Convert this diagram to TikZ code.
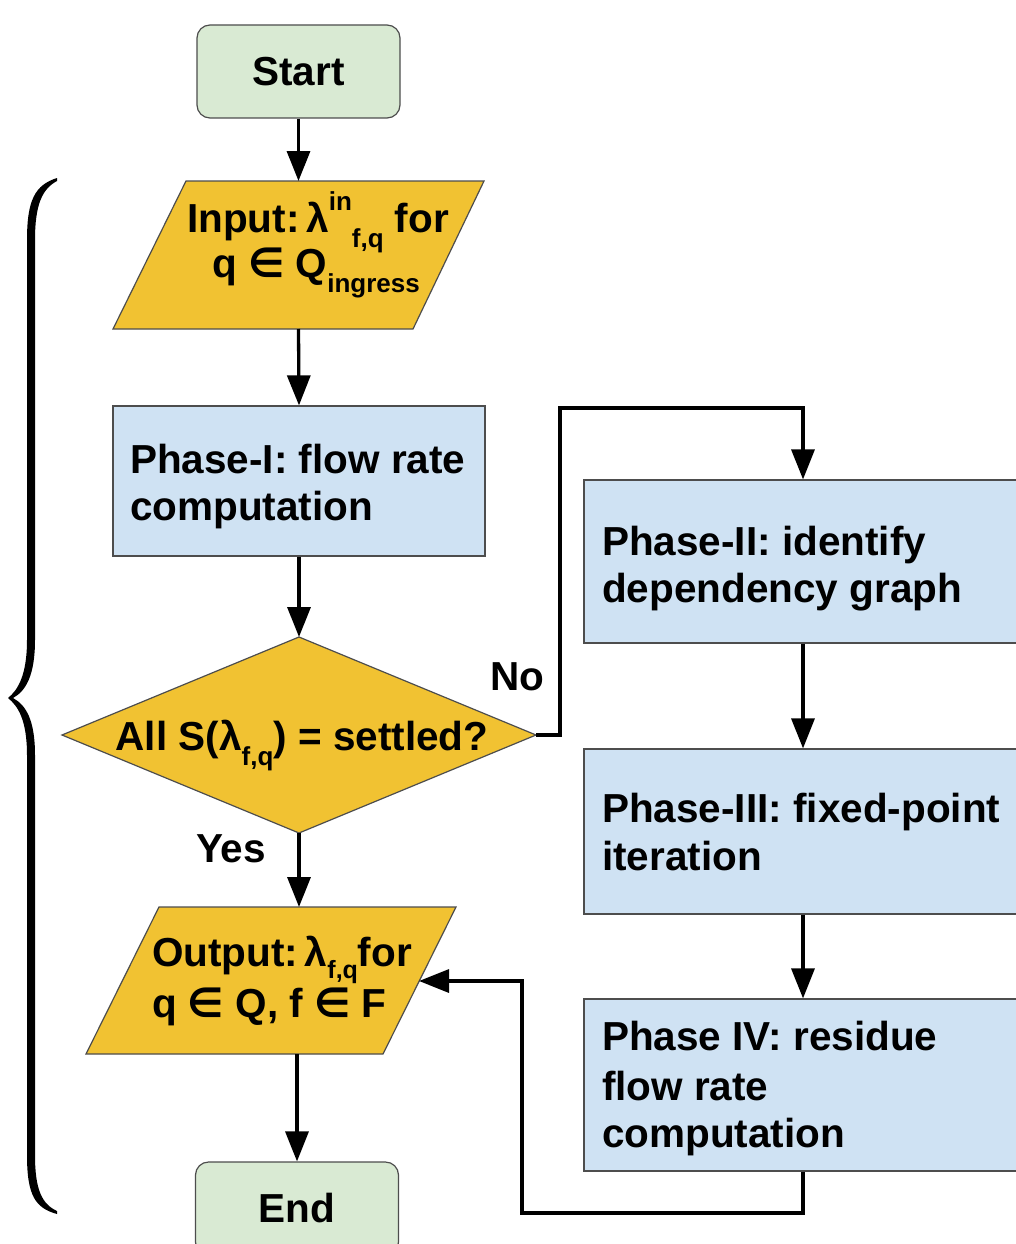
\documentclass[tikz,border=0pt]{standalone}
\usepackage{fontspec}
\setmainfont{Liberation Sans}
\newfontfamily\dvfont{DejaVu Sans}
\usetikzlibrary{arrows.meta}
\definecolor{termfill}{HTML}{D9EAD3}
\definecolor{iofill}{HTML}{F1C232}
\definecolor{procfill}{HTML}{CFE2F3}
\definecolor{edgecol}{HTML}{4D4D4D}
\newcommand\lsub[1]{\raisebox{-15pt}{\fontsize{26}{26}\selectfont #1}}
\newcommand\lsubo[1]{\raisebox{-12pt}{\fontsize{25}{25}\selectfont #1}}
\newcommand\lsup[1]{\raisebox{22pt}{\fontsize{26}{26}\selectfont #1}}
\newcommand\elem{{\dvfont\bfseries ∈}}
\begin{document}
\begin{tikzpicture}[x=1pt,y=-1pt,
  outline/.style={draw=edgecol,line width=1.2pt},
  term/.style={outline,fill=termfill,rounded corners=13pt,minimum width=203pt,minimum height=93pt,inner sep=0pt,font=\fontsize{40.5}{50}\selectfont\bfseries},
  proc/.style={outline,fill=procfill,inner sep=0pt},
  frame/.style={inner sep=0pt,outer sep=0pt},
  txt/.style={font=\fontsize{40.5}{50}\selectfont\bfseries,inner sep=0pt,outer sep=0pt},
  flow/.style={line width=3.3pt,-{Triangle[length=30pt,width=23pt]}}]
\useasboundingbox (0,0) rectangle (1015,1244);
\fill[white] (0,0) rectangle (1015,1244);

% brace
\fill[black] (57,178) .. controls (35,185) and (27,200) .. (27,240) -- (27,640)
  .. controls (27,675) and (18,690) .. (8,698) .. controls (18,706) and (27,720) .. (27,755)
  -- (27,1155) .. controls (27,1195) and (35,1208) .. (57,1214)
  -- (57,1211) .. controls (42,1204) and (35,1190) .. (35,1155) -- (35,755)
  .. controls (35,720) and (26,705) .. (13,698) .. controls (26,691) and (35,675) .. (35,640)
  -- (35,240) .. controls (35,205) and (42,189) .. (57,181) -- cycle;

% start / end
\node[term] (start) at (298.5,71.5) {Start};
\node[term] (end) at (297,1208.5) {End};

% input
\draw[outline,fill=iofill] (186,181) -- (484,181) -- (413,329) -- (113,329) -- cycle;
\node[frame,minimum width=371pt,minimum height=148pt] (in) at (298.5,255) {};
\node[txt,anchor=base] (tin1) at (318,232) {Input:\,λ\lsup{in}\lsub{f,q} for};
\node[txt,anchor=base] (tin2) at (316,277) {q \elem\ Q\lsub{ingress}};

% phase I
\node[proc,minimum width=372pt,minimum height=150pt] (p1) at (299,481) {};
\node[txt,anchor=base west] (tp1a) at (130,473) {Phase-I: flow rate};
\node[txt,anchor=base west] (tp1b) at (130,520) {computation};

% decision
\draw[outline,fill=iofill] (62,735) -- (299,637) -- (536,735) -- (299,833) -- cycle;
\node[frame,minimum width=474pt,minimum height=196pt] (dec) at (299,735) {};
\node[txt,anchor=base] (tdec) at (302,750) {All S(λ\lsub{f,q}) = settled?};

% output
\draw[outline,fill=iofill] (159,907) -- (456,907) -- (383,1054) -- (86,1054) -- cycle;
\node[frame,minimum width=370pt,minimum height=147pt] (out) at (271,980.5) {};
\coordinate (outR) at (419,981);
\node[txt,anchor=base west] (tout1) at (152,966) {Output:\,λ\lsubo{f,q}for};
\node[txt,anchor=base west] (tout2) at (152,1017) {q \elem\ Q, f \elem\ F};

% right column
\node[proc,minimum width=438pt,minimum height=163pt] (p2) at (803,561.5) {};
\node[txt,anchor=base west] (tp2a) at (602,555) {Phase-II: identify};
\node[txt,anchor=base west] (tp2b) at (602,602) {dependency graph};

\node[proc,minimum width=438pt,minimum height=165pt] (p3) at (803,831.5) {};
\node[txt,anchor=base west] (tp3a) at (602,822) {Phase-III: fixed-point};
\node[txt,anchor=base west] (tp3b) at (602,870) {iteration};

\node[proc,minimum width=438pt,minimum height=172pt] (p4) at (803,1085) {};
\node[txt,anchor=base west] (tp4a) at (602,1050) {Phase IV: residue};
\node[txt,anchor=base west] (tp4b) at (602,1100) {flow rate};
\node[txt,anchor=base west] (tp4c) at (602,1147) {computation};

% labels
\node[txt,anchor=base] (lno) at (517,690) {No};
\node[txt,anchor=base] (lyes) at (231,862) {Yes};

% connectors
\coordinate (noA) at (560,408);
\coordinate (backB) at (522,1213);
\draw[flow] (start.south) -- (in.north);
\draw[flow] (in.south) -- (p1.north);
\draw[flow] (p1.south) -- (dec.north);
\draw[flow] (dec.south) -- (dec.south |- out.north);
\draw[flow] (dec.east) -| (noA) -| (p2.north);
\draw[flow] (p2.south) -- (p3.north);
\draw[flow] (p3.south) -- (p4.north);
\draw[flow] (p4.south) |- (backB) |- (outR);
\draw[flow] (end.north |- out.south) -- (end.north);
\end{tikzpicture}
\end{document}
